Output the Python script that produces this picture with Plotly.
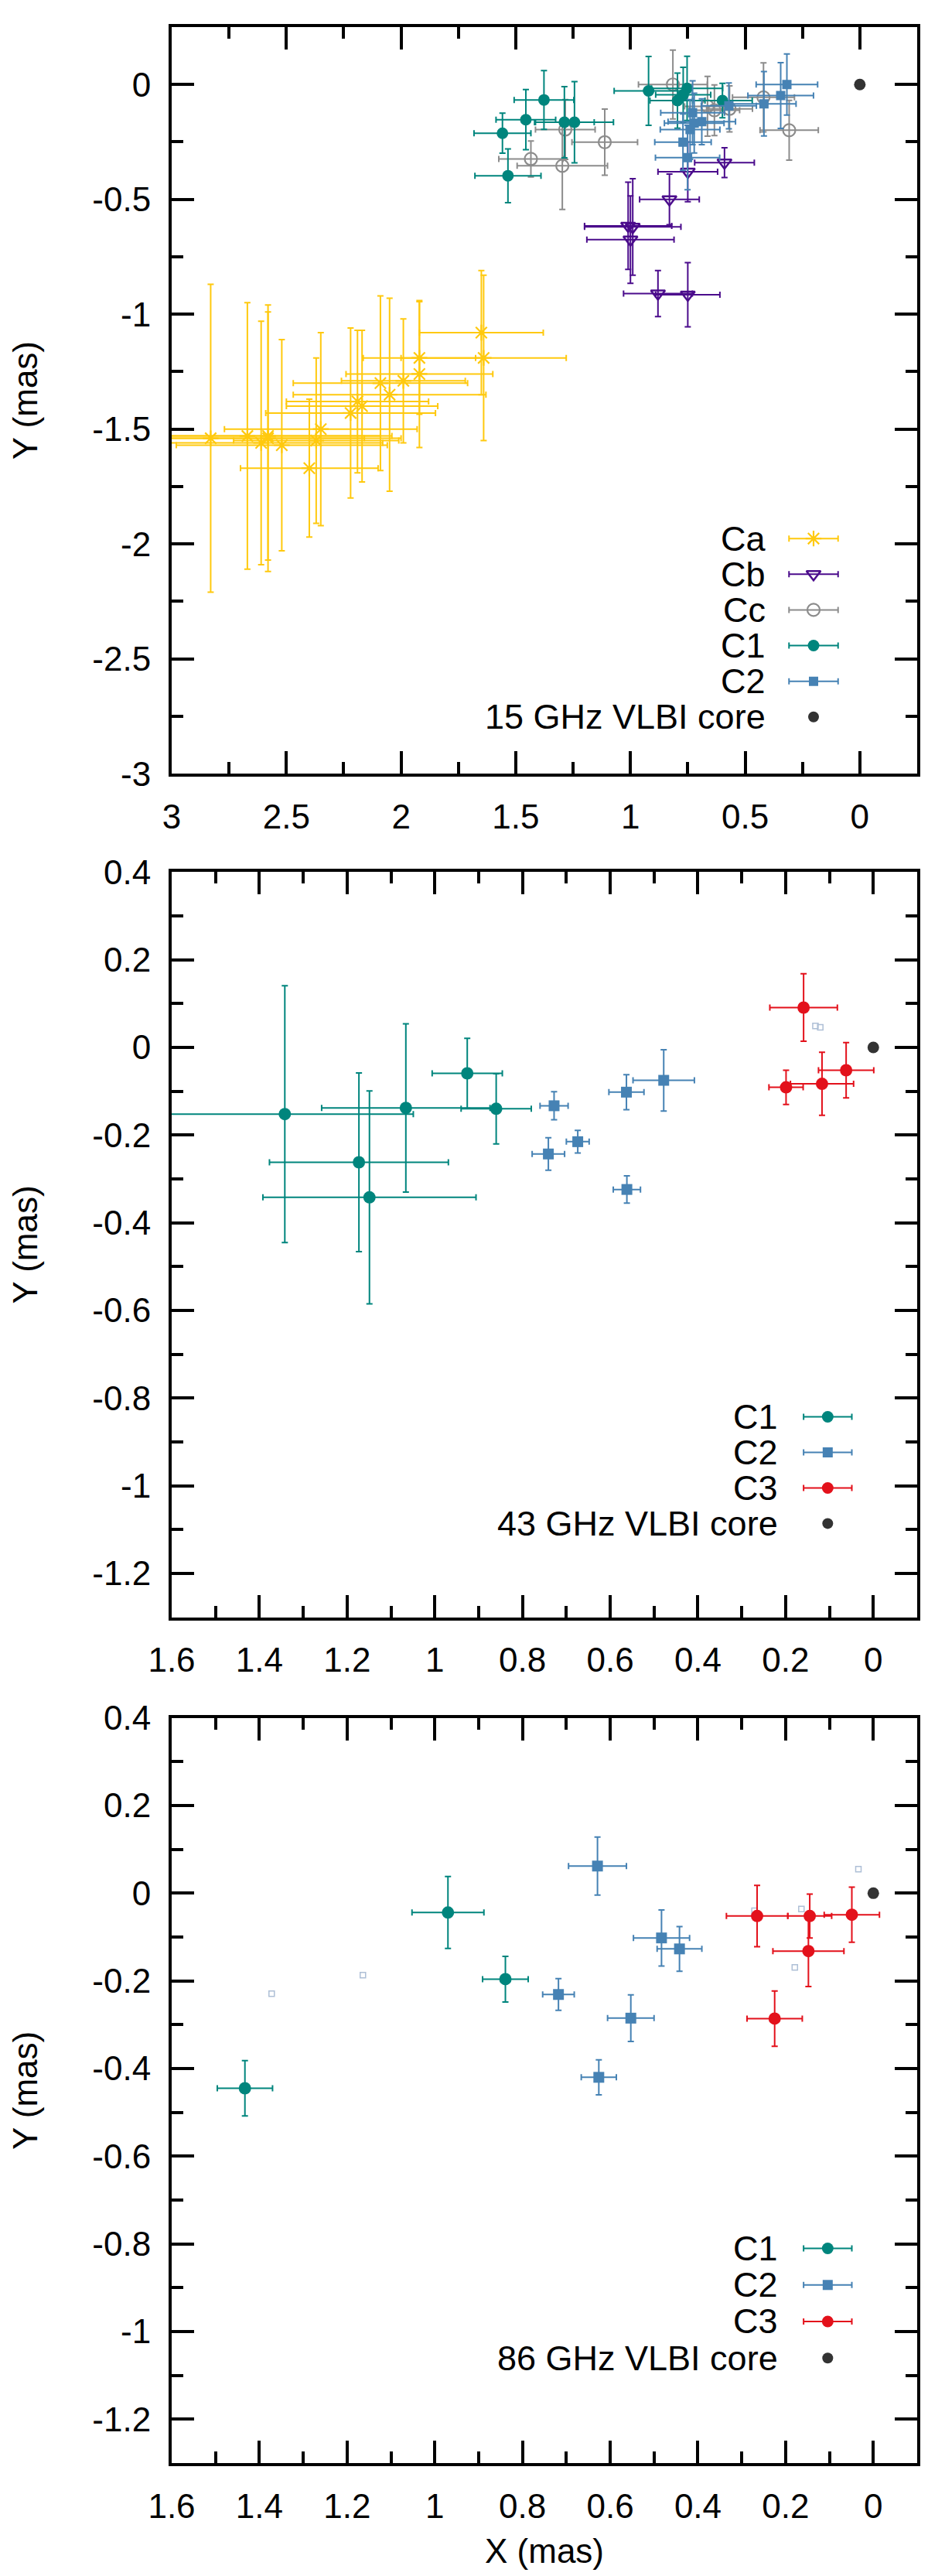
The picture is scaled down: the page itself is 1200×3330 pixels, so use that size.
import numpy as np
import plotly.graph_objects as go

# ---- 15 GHz panel ----
ca_x = [1.65, 1.64, 1.92, 1.92, 1.99, 2.09, 2.05, 2.19, 2.17, 2.22, 2.35, 2.40, 2.37, 2.52, 2.58, 2.58, 2.61, 2.67, 2.83]
ca_y = [-1.08, -1.19, -1.19, -1.26, -1.29, -1.30, -1.35, -1.38, -1.40, -1.43, -1.50, -1.67, -1.55, -1.57, -1.53, -1.54, -1.56, -1.53, -1.54]
ca_err = [0.27, 0.36, 0.245, 0.32, 0.27, 0.38, 0.42, 0.31, 0.33, 0.37, 0.42, 0.30, 0.36, 0.46, 0.54, 0.58, 0.53, 0.58, 0.67]

cb_x = [0.59, 0.75, 0.83, 1.01, 0.99, 1.00, 0.88, 0.75]
cb_y = [-0.34, -0.38, -0.50, -0.615, -0.62, -0.675, -0.91, -0.915]
cb_xerr = [0.13, 0.13, 0.13, 0.19, 0.21, 0.19, 0.15, 0.14]
cb_yerr = [0.065, 0.13, 0.11, 0.19, 0.21, 0.19, 0.10, 0.14]

cc_x = [0.815, 1.284, 1.112, 1.434, 1.297, 0.308, 0.42, 0.568, 0.634, 0.664]
cc_y = [0.0, -0.196, -0.251, -0.324, -0.354, -0.199, -0.056, -0.106, -0.112, -0.095]
cc_xerr = [0.15, 0.13, 0.143, 0.14, 0.197, 0.127, 0.135, 0.10, 0.11, 0.10]
cc_yerr = [0.15, 0.13, 0.144, 0.078, 0.19, 0.13, 0.15, 0.10, 0.11, 0.13]

c1_15_x = [1.558, 1.456, 1.377, 1.288, 1.244, 1.534, 0.921, 0.753, 0.77, 0.795, 0.599]
c1_15_y = [-0.212, -0.153, -0.067, -0.164, -0.164, -0.397, -0.028, -0.017, -0.045, -0.07, -0.07]
c1_15_xerr = [0.124, 0.13, 0.13, 0.13, 0.17, 0.144, 0.15, 0.155, 0.12, 0.12, 0.13]
c1_15_yerr = [0.087, 0.131, 0.128, 0.155, 0.177, 0.117, 0.15, 0.14, 0.12, 0.12, 0.075]

c2_15_x = [0.318, 0.345, 0.418, 0.571, 0.729, 0.689, 0.722, 0.74, 0.771, 0.751]
c2_15_y = [0.0, -0.048, -0.084, -0.093, -0.123, -0.162, -0.168, -0.196, -0.251, -0.318]
c2_15_xerr = [0.134, 0.143, 0.14, 0.12, 0.139, 0.147, 0.13, 0.13, 0.123, 0.14]
c2_15_yerr = [0.133, 0.143, 0.14, 0.10, 0.139, 0.10, 0.13, 0.13, 0.123, 0.14]

# ---- 43 GHz panel ----
c1_43_x = [1.342, 1.066, 0.926, 0.86, 1.173, 1.149]
c1_43_y = [-0.152, -0.138, -0.059, -0.14, -0.262, -0.342]
c1_43_err = [0.293, 0.192, 0.08, 0.08, 0.204, 0.243]

c2_43_x = [0.728, 0.674, 0.741, 0.563, 0.478, 0.562]
c2_43_y = [-0.133, -0.215, -0.243, -0.102, -0.075, -0.324]
c2_43_err = [0.032, 0.026, 0.037, 0.04, 0.07, 0.031]

c3_43_x = [0.159, 0.199, 0.117, 0.062]
c3_43_y = [0.091, -0.091, -0.083, -0.052]
c3_43_err = [0.077, 0.039, 0.072, 0.063]

faint_43_x = [0.132, 0.121]
faint_43_y = [0.049, 0.046]

# ---- 86 GHz panel ----
c1_86_x = [1.433, 0.970, 0.839]
c1_86_y = [-0.445, -0.044, -0.196]
c1_86_err = [0.063, 0.082, 0.052]

c2_86_x = [0.629, 0.483, 0.442, 0.718, 0.553, 0.626]
c2_86_y = [0.062, -0.102, -0.127, -0.231, -0.285, -0.42]
c2_86_err = [0.066, 0.064, 0.051, 0.036, 0.053, 0.04]

c3_86_x = [0.265, 0.145, 0.049, 0.148, 0.225]
c3_86_y = [-0.052, -0.052, -0.049, -0.132, -0.286]
c3_86_err = [0.07, 0.05, 0.063, 0.081, 0.063]

faint_86_x = [1.372, 1.164, 0.271, 0.164, 0.179, 0.034]
faint_86_y = [-0.229, -0.187, -0.04, -0.036, -0.169, 0.055]

core_x = [0.0]
core_y = [0.0]

# tick labels
top_xticks = [3, 2.5, 2, 1.5, 1, 0.5, 0]
top_yticks = [0, -0.5, -1, -1.5, -2, -2.5, -3]
low_xticks = [1.6, 1.4, 1.2, 1, 0.8, 0.6, 0.4, 0.2, 0]
low_yticks = [0.4, 0.2, 0, -0.2, -0.4, -0.6, -0.8, -1, -1.2]

GOLD = "#ffc90e"
INDIGO = "#4b0c8c"
GREY = "#8c8c8c"
TEAL = "#00857d"
STEEL = "#4682b4"
RED = "#e3111b"
CORE = "#333333"
FAINT = "#aebfd6"
FONT = "Liberation Sans, Arial, sans-serif"

fig = go.Figure()


def add_series(ax, x, y, xerr, yerr, color, symbol, size, lw=2):
    fig.add_trace(go.Scatter(
        x=x, y=y, mode="markers", xaxis="x" + ax, yaxis="y" + ax,
        marker=dict(symbol=symbol, size=size, color=color, line=dict(color=color, width=lw)),
        error_x=dict(type="data", array=xerr, color=color, thickness=2, width=4),
        error_y=dict(type="data", array=yerr, color=color, thickness=2, width=4),
        showlegend=False, hoverinfo="x+y",
    ))


def add_plain(ax, x, y, color, symbol, size, lw=1.5):
    fig.add_trace(go.Scatter(
        x=x, y=y, mode="markers", xaxis="x" + ax, yaxis="y" + ax,
        marker=dict(symbol=symbol, size=size, color=color, line=dict(color=color, width=lw)),
        showlegend=False, hoverinfo="x+y",
    ))


# top panel
add_series("", ca_x, ca_y, ca_err, ca_err, GOLD, "asterisk-open", 17, 2.2)
add_series("", cb_x, cb_y, cb_xerr, cb_yerr, INDIGO, "triangle-down-open", 16, 2.5)
add_series("", cc_x, cc_y, cc_xerr, cc_yerr, GREY, "circle-open", 16, 2.2)
add_series("", c1_15_x, c1_15_y, c1_15_xerr, c1_15_yerr, TEAL, "circle", 15, 0)
add_series("", c2_15_x, c2_15_y, c2_15_xerr, c2_15_yerr, STEEL, "square", 12, 0)
add_plain("", core_x, core_y, CORE, "circle", 15, 0)

# middle panel
add_plain("2", faint_43_x, faint_43_y, FAINT, "square-open", 7)
add_series("2", c1_43_x, c1_43_y, c1_43_err, c1_43_err, TEAL, "circle", 16, 0)
add_series("2", c2_43_x, c2_43_y, c2_43_err, c2_43_err, STEEL, "square", 14, 0)
add_series("2", c3_43_x, c3_43_y, c3_43_err, c3_43_err, RED, "circle", 16, 0)
add_plain("2", core_x, core_y, CORE, "circle", 15, 0)

# bottom panel
add_plain("3", faint_86_x, faint_86_y, FAINT, "square-open", 7)
add_series("3", c1_86_x, c1_86_y, c1_86_err, c1_86_err, TEAL, "circle", 16, 0)
add_series("3", c2_86_x, c2_86_y, c2_86_err, c2_86_err, STEEL, "square", 14, 0)
add_series("3", c3_86_x, c3_86_y, c3_86_err, c3_86_err, RED, "circle", 16, 0)
add_plain("3", core_x, core_y, CORE, "circle", 15, 0)

# axis ranges
top_xr, top_yr = [3, -0.25], [-3, 0.25]
low_xr, low_yr = [1.6, -0.1], [-1.3, 0.4]

# hand-made key (text to the left of the sample, as in the original)
keys = [
    ("", top_xr, top_yr, 0.799, 0.861, 0.107, 0.315, 0.0478,
     [("Ca", GOLD, "asterisk-open", 17, 2.2), ("Cb", INDIGO, "triangle-down-open", 16, 2.5),
      ("Cc", GREY, "circle-open", 16, 2.2), ("C1", TEAL, "circle", 15, 0),
      ("C2", STEEL, "square", 12, 0), ("15 GHz VLBI core", CORE, "circle", 14, 0)]),
    ("2", low_xr, low_yr, 0.815, 0.880, 0.055, 0.269, 0.0477,
     [("C1", TEAL, "circle", 15, 0), ("C2", STEEL, "square", 13, 0),
      ("C3", RED, "circle", 15, 0), ("43 GHz VLBI core", CORE, "circle", 14, 0)]),
    ("3", low_xr, low_yr, 0.815, 0.880, 0.055, 0.288, 0.049,
     [("C1", TEAL, "circle", 15, 0), ("C2", STEEL, "square", 13, 0),
      ("C3", RED, "circle", 15, 0), ("86 GHz VLBI core", CORE, "circle", 14, 0)]),
]

annotations = []
for ax, xr, yr, tx, kx, half, r0, step, items in keys:
    for i, (label, color, symbol, size, lw) in enumerate(items):
        fy = r0 - i * step
        annotations.append(dict(
            text=label, x=tx, y=fy, xref=("x" + ax) + " domain", yref=("y" + ax) + " domain",
            xanchor="right", yanchor="middle", showarrow=False,
            font=dict(family=FONT, size=45, color="black"),
        ))
        kxd = xr[0] + kx * (xr[1] - xr[0])
        kyd = yr[0] + fy * (yr[1] - yr[0])
        is_core = "core" in label
        fig.add_trace(go.Scatter(
            x=[kxd], y=[kyd], mode="markers", xaxis="x" + ax, yaxis="y" + ax,
            marker=dict(symbol=symbol, size=size, color=color, line=dict(color=color, width=lw)),
            error_x=dict(type="data", array=[half], color=color, thickness=2, width=4, visible=not is_core),
            showlegend=False, hoverinfo="skip",
        ))


def fmt(v):
    return f"{v:g}"


def axis(rng, ticks, minor_step, domain=None, anchor=None, title=None):
    a = dict(
        range=rng, showline=True, linewidth=4, linecolor="black", mirror="allticks",
        ticks="inside", ticklen=29, tickwidth=3.5, tickcolor="black",
        tickmode="array", tickvals=ticks, ticktext=[fmt(v) for v in ticks],
        tickfont=dict(family=FONT, size=44, color="black"),
        minor=dict(dtick=minor_step, tick0=0, ticks="inside", ticklen=15, tickwidth=3.5,
                   tickcolor="black", showgrid=False),
        showgrid=False, zeroline=False, anchor=anchor,
    )
    if domain is not None:
        a["domain"] = domain
    if title:
        a["title"] = dict(text=title, font=dict(family=FONT, size=44, color="black"))
    return a


# page body keeps an 8 px margin, so the figure is trimmed to fit the window
fig.update_layout(
    width=1184, height=3314,
    margin=dict(l=214, r=2, t=5, b=138),
    paper_bgcolor="white", plot_bgcolor="white",
    showlegend=False,
    xaxis=axis(top_xr, top_xticks, 0.25, [0, 1], "y"),
    yaxis=axis(top_yr, top_yticks, 0.25, [0.6935, 1.0], "x", "Y (mas)"),
    xaxis2=axis(low_xr, low_xticks, 0.1, [0, 1], "y2"),
    yaxis2=axis(low_yr, low_yticks, 0.1, [0.3472, 0.6531], "x2", "Y (mas)"),
    xaxis3=axis(low_xr, low_xticks, 0.1, [0, 1], "y3", "X (mas)"),
    yaxis3=axis(low_yr, low_yticks, 0.1, [0.0, 0.3059], "x3", "Y (mas)"),
    annotations=annotations,
)
for k in ["xaxis", "xaxis2", "xaxis3", "yaxis", "yaxis2", "yaxis3"]:
    fig.layout[k].ticklabelstandoff = 14
for k in ["yaxis", "yaxis2", "yaxis3"]:
    fig.layout[k].title.standoff = 58
fig.layout.xaxis3.title.standoff = 22

fig.write_html("out.html")
